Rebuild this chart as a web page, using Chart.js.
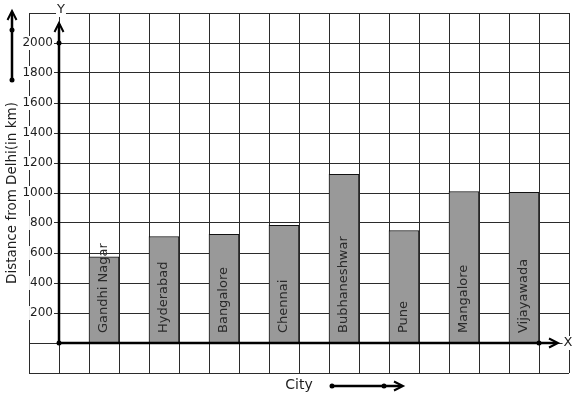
<!DOCTYPE html>
<html>
<head>
<meta charset="utf-8">
<script src="https://cdn.jsdelivr.net/npm/chart.js@4"></script>
<style>
  html, body { margin: 0; padding: 0; background: #fff; }
  #c { display: block; }
</style>
</head>
<body>
<canvas id="c" width="577" height="399"></canvas>
<script>
// data
const cities = ['Gandhi Nagar', 'Hyderabad', 'Bangalore', 'Chennai', 'Bubhaneshwar', 'Pune', 'Mangalore', 'Vijayawada'];
const distances = [575, 710, 725, 785, 1125, 750, 1010, 1005];
const yTickLabels = [200, 400, 600, 800, 1000, 1200, 1400, 1600, 1800, 2000];

const FONT = "'DejaVu Sans', Verdana, sans-serif";
const INK = '#1e1e1e';

// each city sits in the second cell of its two-cell slot on the x grid
const points = cities.map((c, i) => ({ x: 2 * i + 1.5, y: distances[i] }));

function arrowHead(ctx, x, y, dir) {
    ctx.beginPath();
    if (dir === 'up') {
        ctx.moveTo(x - 4.5, y + 9); ctx.lineTo(x, y); ctx.lineTo(x + 4.5, y + 9);
    } else {
        ctx.moveTo(x - 9, y - 4.5); ctx.lineTo(x, y); ctx.lineTo(x - 9, y + 4.5);
    }
    ctx.stroke();
}

function dot(ctx, x, y) {
    ctx.beginPath();
    ctx.arc(x, y, 2.5, 0, Math.PI * 2);
    ctx.fill();
}

function boxedText(ctx, text, x, y, align) {
    const w = ctx.measureText(text).width;
    const left = align === 'right' ? x - w : (align === 'center' ? x - w / 2 : x);
    ctx.fillStyle = '#fff';
    ctx.fillRect(left - 1, y - 7, w + 2, 14);
    ctx.fillStyle = INK;
    ctx.textAlign = align;
    ctx.fillText(text, x, y);
}

const decorations = {
    id: 'decorations',
    afterDatasetsDraw(chart) {
        const ctx = chart.ctx;
        const xs = chart.scales.x, ys = chart.scales.y;
        const ox = xs.getPixelForValue(0), oy = ys.getPixelForValue(0);
        ctx.save();

        // city names inside the bars
        ctx.font = '13px ' + FONT;
        ctx.fillStyle = '#2a2a2a';
        ctx.textBaseline = 'middle';
        ctx.textAlign = 'left';
        chart.getDatasetMeta(0).data.forEach((bar, i) => {
            ctx.save();
            ctx.translate(bar.x, oy - 10);
            ctx.rotate(-Math.PI / 2);
            ctx.fillText(cities[i], 0, 0);
            ctx.restore();
        });

        // y tick labels left of the axis
        ctx.font = '12px ' + FONT;
        ctx.textBaseline = 'middle';
        yTickLabels.forEach(v => {
            boxedText(ctx, String(v), ox - 6, ys.getPixelForValue(v), 'right');
        });

        // thick axes with arrows
        ctx.strokeStyle = '#000';
        ctx.fillStyle = '#000';
        ctx.lineWidth = 2.5;
        ctx.beginPath();
        ctx.moveTo(ox, oy); ctx.lineTo(ox, 24);
        ctx.moveTo(ox, oy); ctx.lineTo(556, oy);
        ctx.stroke();
        ctx.lineWidth = 2;
        arrowHead(ctx, ox, 23, 'up');
        arrowHead(ctx, 558, oy, 'right');
        dot(ctx, ox, oy);
        dot(ctx, ox, ys.getPixelForValue(2000));
        dot(ctx, xs.getPixelForValue(16), oy);

        ctx.font = '13px ' + FONT;
        boxedText(ctx, 'Y', ox + 2, 10, 'center');
        boxedText(ctx, 'X', 568, oy, 'center');

        // side arrows
        ctx.strokeStyle = '#000';
        ctx.fillStyle = '#000';
        ctx.lineWidth = 2.5;
        ctx.beginPath();
        ctx.moveTo(12, 80); ctx.lineTo(12, 13);
        ctx.moveTo(332, 386); ctx.lineTo(401, 386);
        ctx.stroke();
        ctx.lineWidth = 2;
        arrowHead(ctx, 12, 11, 'up');
        arrowHead(ctx, 403, 386, 'right');
        dot(ctx, 12, 30);
        dot(ctx, 12, 80);
        dot(ctx, 332, 386);
        dot(ctx, 384, 386);

        ctx.restore();
    }
};

new Chart(document.getElementById('c'), {
    type: 'bar',
    data: {
        datasets: [{
            label: 'Distance from Delhi (km)',
            data: points,
            backgroundColor: '#999999',
            borderColor: '#111',
            borderWidth: 1,
            borderSkipped: 'bottom',
            barThickness: 30
        }]
    },
    options: {
        responsive: false,
        animation: false,
        events: [],
        layout: { padding: { left: 0, right: 8, top: 13, bottom: 0 } },
        plugins: {
            legend: { display: false },
            tooltip: { enabled: false }
        },
        scales: {
            x: {
                type: 'linear',
                min: -1,
                max: 17,
                offset: false,
                ticks: { stepSize: 1, display: false },
                grid: { color: '#2b2b2b', lineWidth: 1, drawTicks: false, offset: false },
                border: { display: false },
                title: {
                    display: true,
                    text: 'City',
                    color: INK,
                    font: { family: FONT, size: 14 },
                    padding: { top: 0, bottom: 5 }
                },
                afterFit: scale => { scale.height = 26; }
            },
            y: {
                min: -200,
                max: 2200,
                ticks: { stepSize: 200, display: false },
                grid: { color: '#2b2b2b', lineWidth: 1, drawTicks: false },
                border: { display: false },
                title: {
                    display: true,
                    text: 'Distance from Delhi(in km)',
                    color: INK,
                    font: { family: FONT, size: 13.5 },
                    padding: { top: 4, bottom: 0 }
                },
                afterFit: scale => { scale.width = 29; }
            }
        }
    },
    plugins: [decorations]
});
</script>
</body>
</html>
